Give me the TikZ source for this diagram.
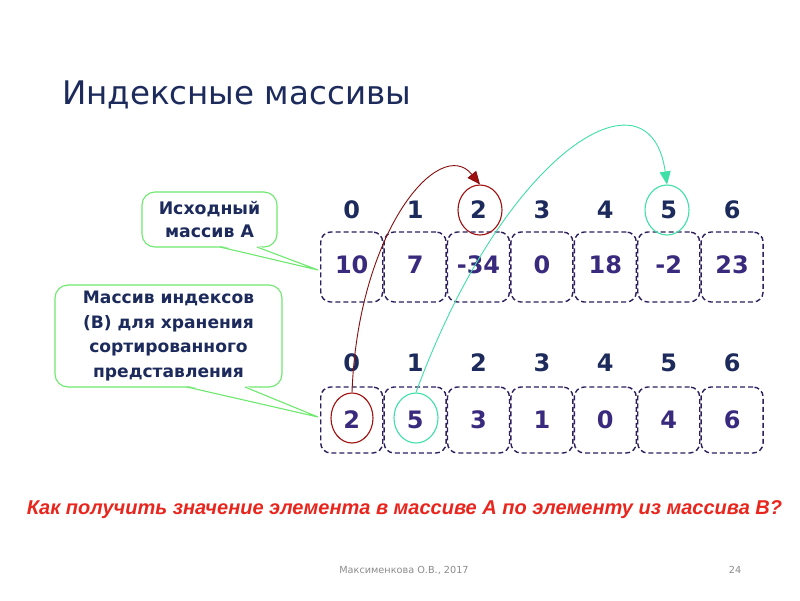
\documentclass[tikz,border=0pt]{standalone}
\usepackage{fontspec}
\setmainfont{DejaVu Sans}
\newfontfamily\libsans{Liberation Sans}
\usetikzlibrary{shapes.geometric,arrows.meta}
\definecolor{navy}{HTML}{1C2A5C}
\definecolor{valpurple}{HTML}{3A2A7E}
\definecolor{boxline}{HTML}{2E1F5E}
\definecolor{callgreen}{HTML}{6EE86E}
\definecolor{darkred}{HTML}{A01010}
\definecolor{teal}{HTML}{3FE0A8}
\definecolor{qred}{HTML}{E8261E}
\definecolor{footgray}{HTML}{8C8C8C}
\begin{document}
\begin{tikzpicture}[x=1pt,y=-1pt,
  cell/.style={draw=boxline,dash pattern=on 5pt off 3pt,line width=1.4pt,rounded corners=10pt,minimum width=62pt,inner sep=0pt},
  topcell/.style={cell,minimum height=70pt},
  botcell/.style={cell,minimum height=66pt},
  idx/.style={font=\bfseries\fontsize{24}{24}\selectfont,text=navy,inner sep=0pt},
  val/.style={font=\bfseries\fontsize{24}{24}\selectfont,text=valpurple,inner sep=0pt},
  callout/.style={draw=callgreen,line width=1.1pt,fill=white,rounded corners=13pt,inner sep=0pt,
    text=navy,align=center},
  redring/.style={ellipse,draw=darkred,line width=1.1pt,minimum width=44pt,minimum height=50pt,inner sep=0pt},
  tealring/.style={ellipse,draw=teal,line width=1.1pt,minimum width=44pt,minimum height=50pt,inner sep=0pt},
]
\useasboundingbox (0,0) rectangle (800,600);
\fill[white] (0,0) rectangle (800,600);

\node[anchor=west,font=\fontsize{32.5}{32.5}\selectfont,text=navy,inner sep=0pt] (title) at (62,95) {Индексные массивы};

% top array
\foreach \i/\v in {0/10,1/7,2/-34,3/0,4/18,5/-2,6/23}{
  \node[topcell] (a\i) at ({351.7+63.4*\i},267) {};
  \node[val] (av\i) at ({351.7+63.4*\i},265) {\v};
  \node[idx] (ai\i) at ({351.7+63.4*\i},210) {\i};
}
% bottom array
\foreach \i/\v in {0/2,1/5,2/3,3/1,4/0,5/4,6/6}{
  \node[botcell] (b\i) at ({351.7+63.4*\i},420) {};
  \node[val] (bv\i) at ({351.7+63.4*\i},420) {\v};
  \node[idx] (bi\i) at ({351.7+63.4*\i},363) {\i};
}

% rings
\node[redring] (ra) at (480,210) {};
\node[tealring] (ta) at (667,210) {};
\node[redring,minimum width=42pt] (rb) at (352,418) {};
\node[tealring] (tb) at (416,418) {};

% arrows
\draw[darkred!85!black,line width=0.9pt,-{Triangle[length=13pt,width=11pt,fill=darkred]}]
  (rb.north) .. controls (358,230) and (440,135) .. (ra.north);
\draw[teal,line width=0.9pt,-{Triangle[length=13pt,width=11pt,fill=teal]}]
  (tb.north) .. controls (505,150) and (650,62) .. (ta.north);

% callout 1
\node[callout,minimum width=135pt,minimum height=55pt,font=\bfseries\fontsize{17.3}{23.5}\selectfont] (c1) at (209.5,219.5) {Исходный\\массив А};
\coordinate (t1) at (318,270);
\fill[white] (220,245.5) -- (t1) -- (257,245.5) -- cycle;
\draw[callgreen,line width=1.1pt] (220,247) -- (t1) -- (257,247);

% callout 2
\node[callout,minimum width=227pt,minimum height=102pt,font=\bfseries\fontsize{17.1}{24.6}\selectfont] (c2) at (168.5,336) {Массив индексов\\(В) для хранения\\сортированного\\представления};
\coordinate (t2) at (318,417);
\fill[white] (187,385.5) -- (t2) -- (245,385.5) -- cycle;
\draw[callgreen,line width=1.1pt] (187,387) -- (t2) -- (245,387);

% question
\node[font=\libsans\bfseries\itshape\fontsize{20}{20}\selectfont,text=qred,inner sep=0pt] (q) at (404.5,510) {Как получить значение элемента в массиве А по элементу из массива В?};

% footer
\node[font=\fontsize{9.7}{9.7}\selectfont,text=footgray,inner sep=0pt] (f1) at (404,570) {Максименкова О.В., 2017};
\node[font=\fontsize{9.7}{9.7}\selectfont,text=footgray,inner sep=0pt] (f2) at (735,570) {24};
\end{tikzpicture}
\end{document}
